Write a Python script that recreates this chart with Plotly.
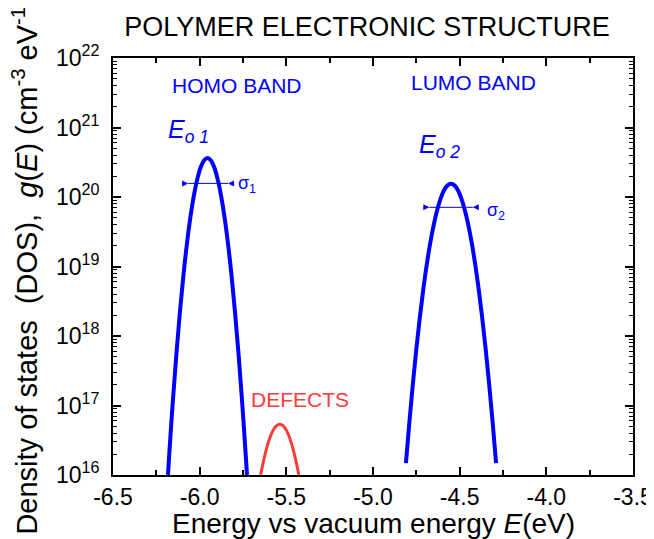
import math
import plotly.graph_objects as go

# ---- data ----
homo_E = [-6.183, -6.175, -6.155, -6.135, -6.115, -6.095, -6.075, -6.055, -6.035, -6.015, -5.995, -5.975,
          -5.955, -5.935, -5.915, -5.895, -5.875, -5.855, -5.835, -5.815, -5.795, -5.775, -5.755, -5.735, -5.727]
homo_g = [1.0e16, 2.06e16, 1.13e17, 5.22e17, 2.06e18, 6.93e18, 1.98e19, 4.82e19, 9.98e19, 1.75e20, 2.63e20, 3.35e20,
          3.63e20, 3.35e20, 2.63e20, 1.75e20, 9.98e19, 4.82e19, 1.98e19, 6.93e18, 2.06e18, 5.22e17, 1.13e17, 2.06e16, 1.0e16]

lumo_E = [-4.81, -4.79, -4.77, -4.75, -4.73, -4.71, -4.69, -4.67, -4.65, -4.63, -4.61, -4.59, -4.57,
          -4.55, -4.53, -4.51, -4.49, -4.47, -4.45, -4.43, -4.41, -4.39, -4.37, -4.35, -4.33, -4.31, -4.29]
lumo_g = [1.48e16, 5.82e16, 2.05e17, 6.47e17, 1.83e18, 4.66e18, 1.06e19, 2.16e19, 3.94e19, 6.44e19, 9.46e19, 1.25e20, 1.47e20,
          1.55e20, 1.47e20, 1.25e20, 9.46e19, 6.44e19, 3.94e19, 2.16e19, 1.06e19, 4.66e18, 1.83e18, 6.47e17, 2.05e17, 5.82e16, 1.48e16]

defect_E = [-5.648, -5.638, -5.618, -5.598, -5.578, -5.558, -5.538, -5.518, -5.498, -5.478, -5.458, -5.438, -5.428]
defect_g = [1.0e16, 1.34e16, 2.21e16, 3.26e16, 4.31e16, 5.08e16, 5.37e16, 5.08e16, 4.31e16, 3.26e16, 2.21e16, 1.34e16, 1.0e16]

sigma1_E = [-6.067, -5.836]
sigma1_g = [1.57e20, 1.57e20]
sigma2_E = [-4.675, -4.424]
sigma2_g = [7.1e19, 7.1e19]

x_tick_vals = [-6.5, -6.0, -5.5, -5.0, -4.5, -4.0, -3.5]
x_tick_text = ["-6.5", "-6.0", "-5.5", "-5.0", "-4.5", "-4.0", "-3.5"]
y_tick_vals = [1e16, 1e17, 1e18, 1e19, 1e20, 1e21, 1e22]
y_tick_text = ["10<sup>16</sup>", "10<sup>17</sup>", "10<sup>18</sup>", "10<sup>19</sup>",
               "10<sup>20</sup>", "10<sup>21</sup>", "10<sup>22</sup>"]

FONT = "Arial, Liberation Sans, sans-serif"
BLUE = "#0000ff"
RED = "#ff3b3b"

fig = go.Figure()
fig.add_trace(go.Scatter(x=homo_E, y=homo_g, mode="lines", line=dict(color=BLUE, width=4, shape="spline"), showlegend=False))
fig.add_trace(go.Scatter(x=lumo_E, y=lumo_g, mode="lines", line=dict(color=BLUE, width=4, shape="spline"), showlegend=False))
fig.add_trace(go.Scatter(x=defect_E, y=defect_g, mode="lines", line=dict(color=RED, width=3, shape="spline"), showlegend=False))
fig.add_trace(go.Scatter(x=sigma1_E, y=sigma1_g, mode="lines", line=dict(color=BLUE, width=1), showlegend=False))
fig.add_trace(go.Scatter(x=sigma2_E, y=sigma2_g, mode="lines", line=dict(color=BLUE, width=1), showlegend=False))

# arrowheads pointing inward at the ends of the sigma bars
for xs, ys in [(sigma1_E, sigma1_g), (sigma2_E, sigma2_g)]:
    ly = math.log10(ys[0])
    fig.add_annotation(x=xs[0], y=ly, ax=-7, ay=0, text="", showarrow=True, arrowhead=2,
                       arrowsize=1, arrowwidth=1.2, arrowcolor=BLUE, xref="x", yref="y")
    fig.add_annotation(x=xs[1], y=ly, ax=7, ay=0, text="", showarrow=True, arrowhead=2,
                       arrowsize=1, arrowwidth=1.2, arrowcolor=BLUE, xref="x", yref="y")

def txt(text, x, y, color, size, angle=0):
    fig.add_annotation(text=text, x=x, y=y, xref="paper", yref="paper", showarrow=False,
                       font=dict(family=FONT, size=size, color=color), xanchor="center", yanchor="middle",
                       textangle=angle)

txt("HOMO BAND", 0.238, 0.933, BLUE, 21)
txt("LUMO BAND", 0.694, 0.942, BLUE, 21)
txt("<i>E</i><sub><i>o 1</i></sub>", 0.146, 0.826, BLUE, 25)
txt("<i>E</i><sub><i>o 2</i></sub>", 0.627, 0.789, BLUE, 25)
txt("σ<sub>1</sub>", 0.258, 0.697, BLUE, 18)
txt("σ<sub>2</sub>", 0.737, 0.633, BLUE, 18)
txt("DEFECTS", 0.36, 0.18, RED, 21)

# axis titles
txt("Energy vs vacuum energy <i>E</i>(eV)", 0.5, -0.116, "black", 28)
txt("Density of states  (DOS),  <i>g</i>(<i>E</i>) (cm<sup>-3</sup> eV<sup>-1</sup>)", -0.171, 0.5, "black", 29, angle=-90)

# the page body adds an 8px offset, so the figure is sized to fill the rest of the window
fig.update_layout(
    width=646, height=531,
    margin=dict(l=105, r=21, t=50, b=64, autoexpand=False),
    paper_bgcolor="white", plot_bgcolor="white",
    font=dict(family=FONT, color="black", size=23),
    title=dict(text="POLYMER ELECTRONIC STRUCTURE", x=359 / 646, xanchor="center", xref="container",
               y=1 - 19 / 531, yanchor="middle", yref="container", font=dict(family=FONT, size=27, color="black")),
)
fig.update_xaxes(
    range=[-6.5, -3.5], tickvals=x_tick_vals, ticktext=x_tick_text, automargin=False,
    ticks="inside", ticklen=8, tickwidth=1.5, tickcolor="black", ticklabelstandoff=0,
    minor=dict(dtick=0.25, tick0=-6.5, ticks="inside", ticklen=5, tickwidth=1.5, tickcolor="black"),
    showline=True, linecolor="black", linewidth=2, mirror="allticks",
    showgrid=False, zeroline=False,
    tickfont=dict(family=FONT, size=23, color="black"),
)
fig.update_yaxes(
    type="log", range=[16, 22], tickvals=y_tick_vals, ticktext=y_tick_text, automargin=False,
    ticks="inside", ticklen=8, tickwidth=1.5, tickcolor="black", ticklabelstandoff=7,
    minor=dict(dtick="D1", ticks="inside", ticklen=4, tickwidth=1, tickcolor="black"),
    showline=True, linecolor="black", linewidth=2, mirror="allticks",
    showgrid=False, zeroline=False,
    tickfont=dict(family=FONT, size=23, color="black"),
)

fig.write_html("out.html")
